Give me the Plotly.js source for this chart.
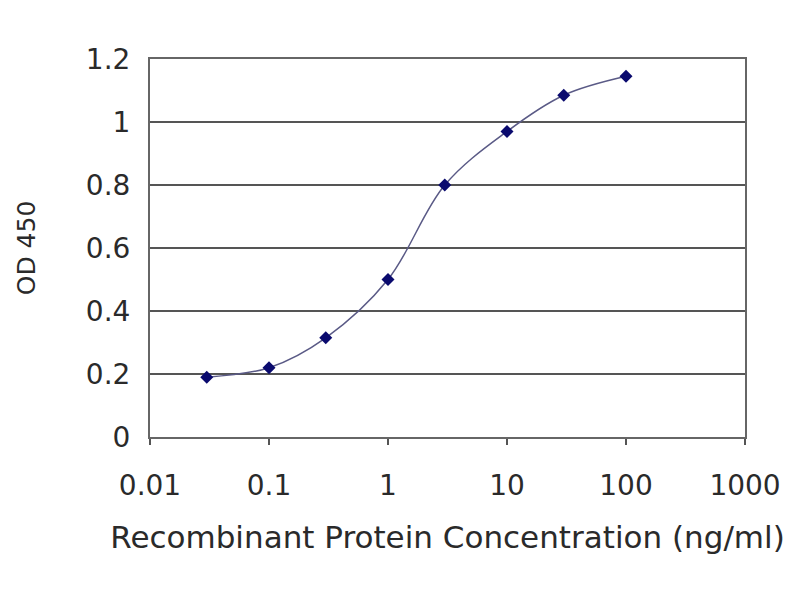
<!DOCTYPE html>
<html>
<head>
<meta charset="utf-8">
<script src="https://cdn.plot.ly/plotly-3.0.1.min.js"></script>
<style>html,body{margin:0;padding:0;background:#fff;}#chart{width:800px;height:600px;}</style>
</head>
<body>
<div id="chart"></div>
<script>
const concentrations = [0.03, 0.1, 0.3, 1, 3, 10, 30, 100];
const od450 = [0.19, 0.22, 0.315, 0.50, 0.80, 0.97, 1.085, 1.145];
const xTickVals = [0.01, 0.1, 1, 10, 100, 1000];
const xTickText = ['0.01', '0.1', '1', '10', '100', '1000'];
const yTickVals = [0, 0.2, 0.4, 0.6, 0.8, 1, 1.2];
const yTickText = ['0', '0.2', '0.4', '0.6', '0.8', '1', '1.2'];

const font = 'DejaVu Sans, Arial, sans-serif';
const trace = {
  x: concentrations, y: od450, type: 'scatter', mode: 'lines+markers',
  line: {shape: 'spline', smoothing: 1, color: '#5a5a86', width: 1.5},
  marker: {symbol: 'diamond', size: 10, color: '#0a0a6e'}
};
const layout = {
  width: 800, height: 600,
  margin: {l: 150, r: 55, t: 59, b: 163},
  paper_bgcolor: '#fff', plot_bgcolor: '#fff',
  showlegend: false,
  font: {family: font, color: '#2a2a2a', size: 28},
  xaxis: {
    type: 'log', range: [-2, 3],
    tickvals: xTickVals, ticktext: xTickText,
    showgrid: false, zeroline: false,
    showline: true, linecolor: '#666', linewidth: 2, mirror: true,
    ticks: 'outside', ticklen: 6, tickcolor: '#555', tickwidth: 2,
    ticklabelstandoff: 16,
    tickfont: {family: font, size: 28, color: '#2a2a2a'},
    title: {text: 'Recombinant Protein Concentration (ng/ml)', font: {family: font, size: 31, color: '#2a2a2a'}, standoff: 26}
  },
  yaxis: {
    range: [0, 1.2],
    tickvals: yTickVals, ticktext: yTickText,
    showgrid: true, gridcolor: '#555', gridwidth: 2,
    zeroline: false,
    showline: true, linecolor: '#666', linewidth: 2, mirror: true,
    ticks: '',
    ticklabelstandoff: 12,
    tickfont: {family: font, size: 28, color: '#2a2a2a'},
    title: {text: 'OD 450', font: {family: font, size: 25, color: '#2a2a2a'}, standoff: 43}
  }
};
Plotly.newPlot('chart', [trace], layout, {displayModeBar: false, staticPlot: true});
</script>
</body>
</html>
